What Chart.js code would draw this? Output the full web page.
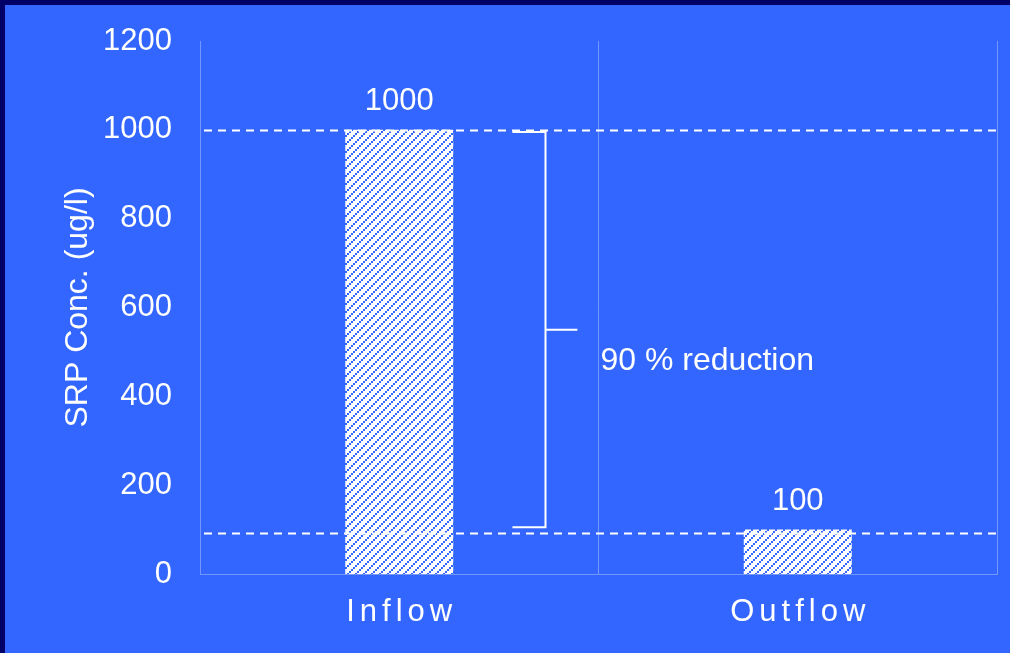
<!DOCTYPE html>
<html>
<head>
<meta charset="utf-8">
<script src="https://cdn.jsdelivr.net/npm/chart.js@4.4.1/dist/chart.umd.min.js"></script>
<style>
  html, body { margin: 0; padding: 0; background: #000066; width: 1010px; height: 653px; overflow: hidden; }
  #wrap { position: absolute; left: 5px; top: 5px; width: 1005px; height: 648px; background: #3366FF; }
  canvas { display: block; }
</style>
</head>
<body>
<div id="wrap"><canvas id="c" width="1005" height="648"></canvas></div>
<script>
// Soluble reactive phosphorus, inflow vs outflow
const categories = ['Inflow', 'Outflow'];
const srpValues = [1000, 100];
const yTicks = [0, 200, 400, 600, 800, 1000, 1200];
const referenceLevels = [1000, 93];       // dashed guide lines
const bracketLevels = { top: 995, bottom: 105, middle: 550 };
const reductionText = '90 % reduction';
const reductionTextLevel = 480;

const FONT = '"Liberation Sans", Arial, sans-serif';
const WHITE = '#FFFFFF';
const BLUE = '#3366FF';

// diagonal hatch fill for the bars
function hatchPattern(ctx) {
  const t = document.createElement('canvas');
  t.width = 8; t.height = 8;
  const g = t.getContext('2d');
  g.fillStyle = WHITE;
  g.fillRect(0, 0, 8, 8);
  g.fillStyle = BLUE;
  g.fillRect(6, 0, 2, 2);
  g.fillRect(4, 2, 2, 2);
  g.fillRect(2, 4, 2, 2);
  g.fillRect(0, 6, 2, 2);
  return ctx.createPattern(t, 'repeat');
}

const ctx = document.getElementById('c').getContext('2d');

const overlay = {
  id: 'overlay',
  afterDatasetsDraw(chart) {
    const c = chart.ctx;
    const xs = chart.scales.x, ys = chart.scales.y;
    const area = chart.chartArea;
    c.save();

    // value labels above bars
    c.fillStyle = WHITE;
    c.font = '31px ' + FONT;
    c.textAlign = 'center';
    c.textBaseline = 'middle';
    chart.getDatasetMeta(0).data.forEach((bar, i) => {
      c.fillText(String(srpValues[i]), bar.x, bar.y - 28);
    });

    // dashed guide lines
    c.strokeStyle = WHITE;
    c.lineWidth = 2;
    c.setLineDash([8, 6]);
    referenceLevels.forEach(v => {
      const y = Math.round(ys.getPixelForValue(v)) + 0.5;
      c.beginPath();
      c.moveTo(area.left + 4, y);
      c.lineTo(area.right, y);
      c.stroke();
    });
    c.setLineDash([]);

    // bracket marking the reduction
    const cx = xs.getPixelForValue(0);
    const catW = xs.getPixelForValue(1) - cx;
    const xL = cx + 0.284 * catW;
    const xV = cx + 0.367 * catW;
    const xM = cx + 0.447 * catW;
    const yT = ys.getPixelForValue(bracketLevels.top);
    const yB = ys.getPixelForValue(bracketLevels.bottom);
    const yM = ys.getPixelForValue(bracketLevels.middle);
    c.lineWidth = 2;
    c.beginPath();
    c.moveTo(xL, yT); c.lineTo(xV, yT); c.lineTo(xV, yB); c.lineTo(xL, yB);
    c.moveTo(xV, yM); c.lineTo(xM, yM);
    c.stroke();

    // reduction label
    c.textAlign = 'left';
    c.font = '32px ' + FONT;
    c.fillText(reductionText, cx + catW / 2 + 2, ys.getPixelForValue(reductionTextLevel));

    // category labels with wide letter spacing
    c.font = '31px ' + FONT;
    c.textAlign = 'center';
    c.letterSpacing = '5px';
    categories.forEach((lab, i) => {
      c.fillText(lab, xs.getPixelForValue(i) + 2.5, area.bottom + 38);
    });
    c.restore();
  }
};

new Chart(ctx, {
  type: 'bar',
  data: {
    labels: categories,
    datasets: [{
      data: srpValues,
      backgroundColor: hatchPattern(ctx),
      borderWidth: 0,
      barPercentage: 0.271,
      categoryPercentage: 1.0
    }]
  },
  options: {
    responsive: false,
    animation: false,
    layout: { padding: { top: 36, right: 13, left: 0, bottom: 0 } },
    plugins: { legend: { display: false }, tooltip: { enabled: false } },
    scales: {
      x: {
        grid: { display: true, offset: true, drawTicks: false, color: 'rgba(255,255,255,0.32)', lineWidth: 1 },
        border: { display: true, color: 'rgba(255,255,255,0.32)', width: 1 },
        ticks: { display: false },
        afterFit: s => { s.height = 79; s.paddingLeft = 0; s.paddingRight = 0; }
      },
      y: {
        min: 0, max: 1200,
        afterBuildTicks: s => { s.ticks = yTicks.map(v => ({ value: v })); },
        grid: { display: false, drawTicks: false },
        border: { display: false },
        ticks: { color: WHITE, font: { family: FONT, size: 31 }, padding: 28, callback: v => String(v) },
        title: {
          display: true, text: 'SRP Conc. (ug/l)', color: WHITE,
          font: { family: FONT, size: 32 }, padding: { top: 54, bottom: 0 }
        },
        afterFit: s => { s.width = 195; s.paddingTop = 0; s.paddingBottom = 0; }
      }
    }
  },
  plugins: [overlay]
});
</script>
</body>
</html>
